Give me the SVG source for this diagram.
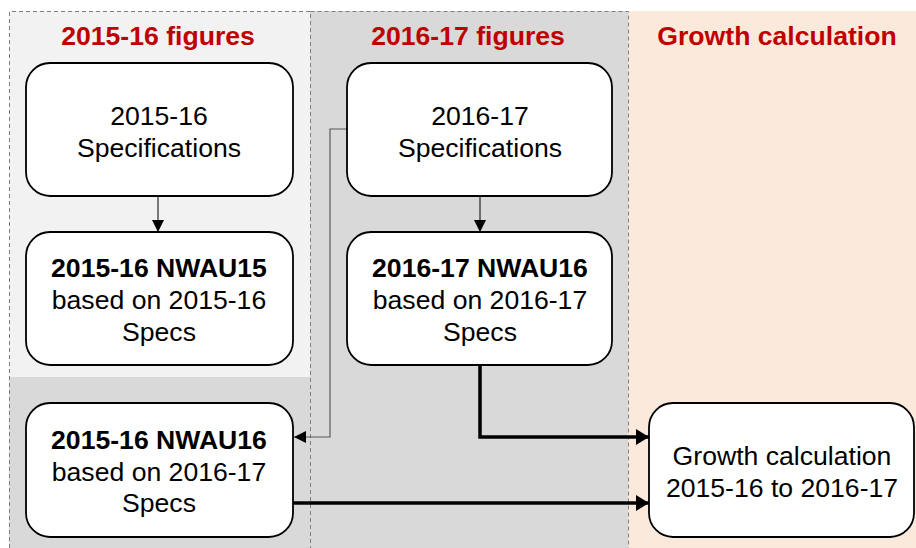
<svg xmlns="http://www.w3.org/2000/svg" width="916" height="548" viewBox="0 0 916 548">
<style>
.title{font-family:"Liberation Sans",Arial,sans-serif;font-weight:bold;font-size:26.6px;fill:#c00000;text-anchor:middle}
.t{font-family:"Liberation Sans",Arial,sans-serif;font-size:26.6px;fill:#000;text-anchor:middle}
.b{font-weight:bold}
.box{fill:#fff;stroke:#000;stroke-width:1.8}
.dash{fill:none;stroke:#7f7f7f;stroke-width:1;stroke-dasharray:4 3}
.thin{fill:none;stroke:#000;stroke-width:1}
.grey{fill:none;stroke:#595959;stroke-width:1.2}
.thick{fill:none;stroke:#000;stroke-width:3.5}
</style>
<defs>
<marker id="a1" markerWidth="13" markerHeight="12" refX="12" refY="6" orient="auto" markerUnits="userSpaceOnUse"><path d="M0,0 L12,6 L0,12 Z" fill="#000"/></marker>
<marker id="a3" markerWidth="14" markerHeight="16" refX="13" refY="8" orient="auto" markerUnits="userSpaceOnUse"><path d="M0,0 L13,8 L0,16 Z" fill="#000"/></marker>
</defs>
<g id="panels">
<rect x="9" y="11" width="301" height="366" fill="#f2f2f2"/>
<rect x="9" y="377" width="301" height="171" fill="#d9d9d9"/>
<rect x="310" y="11" width="318" height="537" fill="#d9d9d9"/>
<rect x="628" y="11" width="288" height="537" fill="#fbe9dc"/>
<path class="dash" d="M9.5,548 V11.5 H310.5 V548"/>
<path class="dash" d="M310.5,11.5 H628.5 V548"/>
</g>
<g id="titles">
<text class="title" x="158" y="45">2015-16 figures</text>
<text class="title" x="468" y="45">2016-17 figures</text>
<text class="title" x="777" y="45">Growth calculation</text>
</g>
<g id="connectors">
<path class="thin" d="M158,196 V232" marker-end="url(#a1)"/>
<path class="thin" d="M480,196 V232" marker-end="url(#a1)"/>
<path class="grey" d="M347,129 H330 V437 H294" marker-end="url(#a1)"/>
<path class="thick" d="M480,365 V437 H649" marker-end="url(#a3)"/>
<path class="thick" d="M293,503 H649" marker-end="url(#a3)"/>
</g>
<g id="spec1516">
<rect class="box" x="26" y="63" width="267" height="133" rx="24"/>
<text class="t" x="159" y="125">2015-16</text>
<text class="t" x="159" y="157">Specifications</text>
</g>
<g id="nwau15">
<rect class="box" x="26" y="232" width="267" height="133" rx="24"/>
<text class="t b" x="159" y="277">2015-16 NWAU15</text>
<text class="t" x="159" y="309">based on 2015-16</text>
<text class="t" x="159" y="341">Specs</text>
</g>
<g id="spec1617">
<rect class="box" x="347" y="63" width="265" height="133" rx="24"/>
<text class="t" x="480" y="125">2016-17</text>
<text class="t" x="480" y="157">Specifications</text>
</g>
<g id="nwau16">
<rect class="box" x="347" y="232" width="265" height="133" rx="24"/>
<text class="t b" x="480" y="277">2016-17 NWAU16</text>
<text class="t" x="480" y="309">based on 2016-17</text>
<text class="t" x="480" y="341">Specs</text>
</g>
<g id="nwau16old">
<rect class="box" x="26" y="403" width="267" height="134" rx="24"/>
<text class="t b" x="159" y="449">2015-16 NWAU16</text>
<text class="t" x="159" y="481">based on 2016-17</text>
<text class="t" x="159" y="512">Specs</text>
</g>
<g id="growth">
<rect class="box" x="649" y="403" width="265" height="134" rx="24"/>
<text class="t" x="782" y="465">Growth calculation</text>
<text class="t" x="782" y="497">2015-16 to 2016-17</text>
</g>
</svg>
